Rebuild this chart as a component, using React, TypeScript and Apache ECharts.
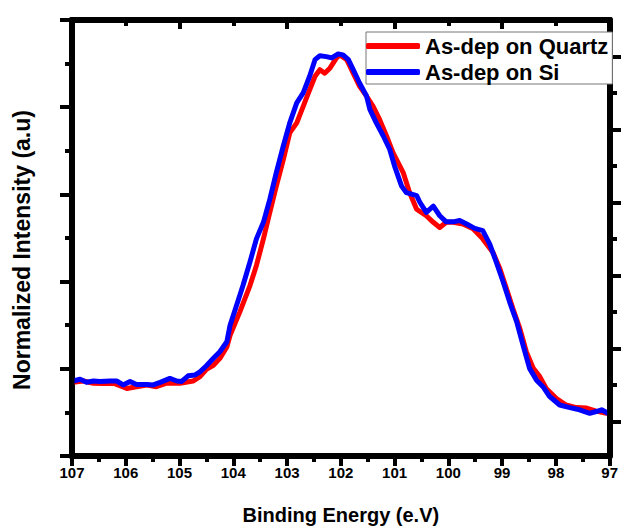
import React, { useEffect, useRef } from "react";
import * as echarts from "echarts";

const quartzEnergy = [106.98,106.79,106.6,106.42,106.23,105.98,105.8,105.61,105.43,105.24,104.99,104.75,104.62,104.5,104.37,104.25,104.12,104.06,103.88,103.69,103.57,103.44,103.32,103.2,103.07,102.95,102.82,102.7,102.58,102.48,102.39,102.3,102.2,102.08,102.02,101.89,101.77,101.65,101.52,101.4,101.28,101.15,101.03,100.84,100.72,100.59,100.41,100.28,100.16,100.04,99.91,99.73,99.54,99.36,99.17,99.04,98.92,98.8,98.67,98.55,98.42,98.3,98.18,97.99,97.81,97.62,97.43,97.25,97.06];
const quartzIntensity = [0.169,0.172,0.167,0.166,0.167,0.155,0.159,0.163,0.159,0.167,0.167,0.172,0.182,0.199,0.208,0.224,0.25,0.277,0.33,0.391,0.437,0.498,0.559,0.619,0.68,0.741,0.764,0.802,0.84,0.871,0.886,0.878,0.89,0.913,0.92,0.909,0.878,0.848,0.825,0.802,0.772,0.734,0.696,0.65,0.604,0.566,0.551,0.536,0.524,0.536,0.536,0.532,0.521,0.498,0.467,0.429,0.384,0.338,0.292,0.239,0.201,0.182,0.155,0.132,0.117,0.111,0.11,0.103,0.098];

const siEnergy = [106.98,106.85,106.73,106.6,106.48,106.29,106.17,106.05,105.92,105.8,105.61,105.49,105.36,105.18,105.05,104.96,104.84,104.71,104.62,104.5,104.37,104.25,104.12,104.06,103.94,103.82,103.69,103.57,103.44,103.32,103.2,103.07,102.95,102.82,102.7,102.58,102.48,102.39,102.27,102.17,102.05,101.96,101.86,101.77,101.65,101.52,101.46,101.34,101.21,101.09,101.0,100.87,100.78,100.59,100.53,100.41,100.28,100.16,100.04,99.91,99.79,99.66,99.51,99.36,99.23,99.11,98.98,98.86,98.73,98.61,98.49,98.36,98.24,98.12,97.93,97.74,97.56,97.37,97.25,97.15,97.03];
const siIntensity = [0.172,0.176,0.169,0.172,0.171,0.172,0.172,0.163,0.171,0.164,0.164,0.163,0.169,0.178,0.172,0.171,0.184,0.186,0.193,0.207,0.224,0.239,0.262,0.3,0.345,0.391,0.445,0.498,0.536,0.589,0.65,0.711,0.764,0.81,0.833,0.871,0.909,0.918,0.916,0.913,0.922,0.92,0.909,0.886,0.855,0.825,0.795,0.764,0.734,0.703,0.665,0.619,0.604,0.597,0.582,0.559,0.573,0.551,0.537,0.537,0.54,0.532,0.522,0.517,0.486,0.445,0.399,0.353,0.308,0.254,0.201,0.174,0.159,0.137,0.117,0.111,0.106,0.098,0.102,0.106,0.098];

const seriesNames = ["As-dep on Quartz", "As-dep on Si"];
const xTitle = "Binding Energy (e.V)";
const yTitle = "Normalized Intensity (a.u)";

const FONT = "'Liberation Sans', Arial, sans-serif";

const GRID_TOP = 20;
const GRID_BOTTOM = 72;
const RIGHT_UNIT = (530 - GRID_TOP - GRID_BOTTOM) / 12;

export default function App() {
  const ref = useRef<HTMLDivElement>(null);
  useEffect(() => {
    if (!ref.current) return;
    const chart = echarts.init(ref.current, null, { renderer: "svg" });
    chart.setOption({
      animation: false,
      grid: [
        { left: 72, right: 11, top: GRID_TOP, bottom: GRID_BOTTOM },
        { left: 72, right: 11, top: GRID_TOP + RIGHT_UNIT, bottom: GRID_BOTTOM + RIGHT_UNIT },
      ],
      legend: {
        left: 366,
        top: 32,
        orient: "vertical",
        data: seriesNames,
        icon: "roundRect",
        itemWidth: 54,
        itemHeight: 6,
        itemGap: 4,
        padding: [3, 4, 1, 0],
        borderColor: "#777",
        borderWidth: 1,
        backgroundColor: "#fff",
        z: 10,
        textStyle: { fontFamily: FONT, fontWeight: "bold", fontSize: 22, color: "#000" },
      },
      xAxis: [
        {
          type: "value",
          gridIndex: 0,
          position: "bottom",
          min: 97,
          max: 107,
          interval: 1,
          inverse: true,
          name: xTitle,
          nameLocation: "middle",
          nameGap: 49,
          nameTextStyle: { fontFamily: FONT, fontWeight: "bold", fontSize: 20, color: "#000" },
          axisLine: { show: true, onZero: false, lineStyle: { color: "#000", width: 6 } },
          axisTick: { show: true, length: 10, lineStyle: { color: "#000", width: 4 } },
          minorTick: { show: true, splitNumber: 2, length: 6, lineStyle: { color: "#000", width: 4 } },
          axisLabel: { fontFamily: FONT, fontWeight: "bold", fontSize: 15, color: "#000", margin: 9 },
          splitLine: { show: false },
        },
        {
          type: "value",
          gridIndex: 0,
          position: "top",
          min: 0,
          max: 10,
          interval: 2,
          axisLine: { show: true, onZero: false, lineStyle: { color: "#000", width: 6 } },
          axisTick: { show: true, inside: true, length: 9, lineStyle: { color: "#000", width: 4 } },
          minorTick: { show: true, splitNumber: 2, length: 6, lineStyle: { color: "#000", width: 4 } },
          axisLabel: { show: false },
          splitLine: { show: false },
        },
        { type: "value", gridIndex: 1, min: 0, max: 10, show: false },
      ],
      yAxis: [
        {
          type: "value",
          gridIndex: 0,
          position: "left",
          min: 0,
          max: 1,
          interval: 0.2,
          axisLine: { show: true, onZero: false, lineStyle: { color: "#000", width: 6 } },
          axisTick: { show: true, length: 12, lineStyle: { color: "#000", width: 4 } },
          minorTick: { show: true, splitNumber: 2, length: 7, lineStyle: { color: "#000", width: 4 } },
          axisLabel: { show: false },
          splitLine: { show: false },
        },
        {
          type: "value",
          gridIndex: 0,
          position: "right",
          min: 0,
          max: 12,
          interval: 2,
          axisLine: { show: true, onZero: false, lineStyle: { color: "#000", width: 6 } },
          axisTick: { show: false },
          axisLabel: { show: false },
          splitLine: { show: false },
        },
        {
          type: "value",
          gridIndex: 1,
          position: "right",
          min: 1,
          max: 11,
          interval: 2,
          axisLine: { show: false, onZero: false },
          axisTick: { show: true, length: 11, lineStyle: { color: "#000", width: 4 } },
          minorTick: { show: true, splitNumber: 2, length: 7, lineStyle: { color: "#000", width: 4 } },
          axisLabel: { show: false },
          splitLine: { show: false },
        },
      ],
      series: [
        {
          name: seriesNames[0],
          type: "line",
          xAxisIndex: 0,
          yAxisIndex: 0,
          showSymbol: false,
          symbol: "none",
          color: "#ff0000",
          lineStyle: { color: "#ff0000", width: 5, join: "round", cap: "round" },
          data: quartzEnergy.map((e, i) => [e, quartzIntensity[i]]),
        },
        {
          name: seriesNames[1],
          type: "line",
          xAxisIndex: 0,
          yAxisIndex: 0,
          showSymbol: false,
          symbol: "none",
          color: "#0000ff",
          lineStyle: { color: "#0000ff", width: 5, join: "round", cap: "round" },
          data: siEnergy.map((e, i) => [e, siIntensity[i]]),
        },
      ],
    });
    const p0 = chart.convertToPixel({ gridIndex: 0 }, [107, 0]) as number[];
    const p1 = chart.convertToPixel({ gridIndex: 0 }, [97, 1]) as number[];
    chart.setOption({
      graphic: [
        {
          type: "rect",
          silent: true,
          z: 5,
          shape: { x: p0[0], y: p1[1], width: p1[0] - p0[0], height: p0[1] - p1[1] },
          style: { fill: "none", stroke: "#000", lineWidth: 5 },
        },
        {
          type: "text",
          x: 22,
          y: 250,
          rotation: Math.PI / 2,
          style: {
            text: yTitle,
            fontFamily: FONT,
            fontWeight: "bold",
            fontSize: 23,
            fill: "#000",
            align: "center",
            verticalAlign: "middle",
          },
        },
      ],
    });
    return () => chart.dispose();
  }, []);
  return <div ref={ref} style={{ width: 621, height: 530, position: "absolute", left: 0, top: 0 }} />;
}
